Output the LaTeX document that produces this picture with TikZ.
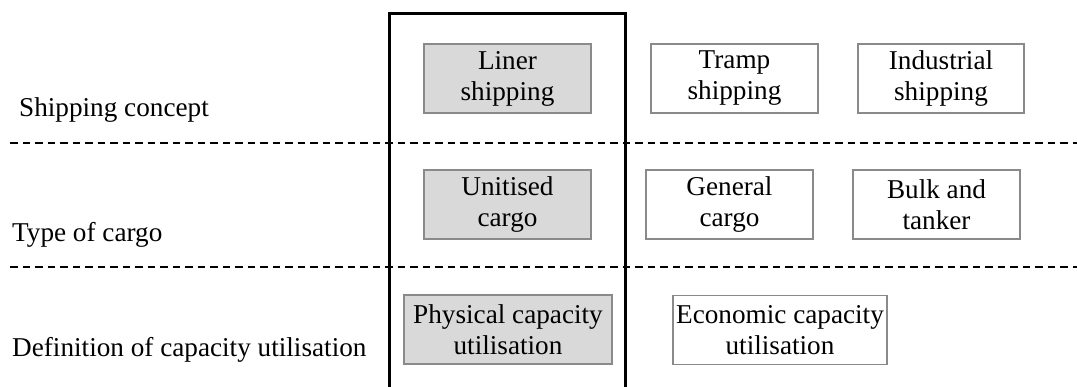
\documentclass[tikz,border=0pt]{standalone}
\usepackage{fontspec}
\setmainfont{Liberation Serif}
\definecolor{boxgrey}{HTML}{D9D9D9}
\definecolor{edgegrey}{HTML}{8A8A8A}
\begin{document}
\begin{tikzpicture}[x=1pt,y=-1pt,
		every node/.style={font=\fontsize{27.2}{31}\selectfont},
		choice/.style={rectangle,draw=edgegrey,line width=1.5pt,align=center,inner sep=0pt,minimum height=69pt},
		picked/.style={choice,fill=boxgrey},
		level/.style={anchor=base west,inner sep=0pt},
		split/.style={dashed,line width=1.3pt,dash pattern=on 7.5pt off 5pt}]
		\useasboundingbox (0,0) rectangle (1077,387);
		\node [level] (concept) at (19,117) {Shipping concept};
		\node [level] (cargo) at (12,242) {Type of cargo};
		\node [level] (capacity) at (12,357) {Definition of capacity utilisation};
		\node [picked,minimum width=167pt] (liner) at (507.5,78.5) {Liner\\shipping};
		\node [choice,minimum width=167pt] (tramp) at (734.5,78.5) {Tramp\\shipping};
		\node [choice,minimum width=166pt] (industrial) at (941,78.5) {Industrial\\shipping};
		\node [picked,minimum width=167pt] (unitised) at (507.5,204.5) {Unitised\\cargo};
		\node [choice,minimum width=167pt] (general) at (729.5,204.5) {General\\cargo};
		\node [choice,minimum width=167pt] (bulk) at (936.5,204.5) {Bulk and\\tanker};
		\node [picked,minimum width=208pt] (physical) at (508,329.5) {Physical capacity\\utilisation};
		\node [choice,minimum width=214pt] (economic) at (780,330) {Economic capacity\\utilisation};
		\draw [split] (10,143) -- (1077,143);
		\draw [split] (10,267) -- (1077,267);
		\draw [line width=3pt] (389,392) -- (389,14) -- (625,14) -- (625,392);
	\end{tikzpicture}
\end{document}
